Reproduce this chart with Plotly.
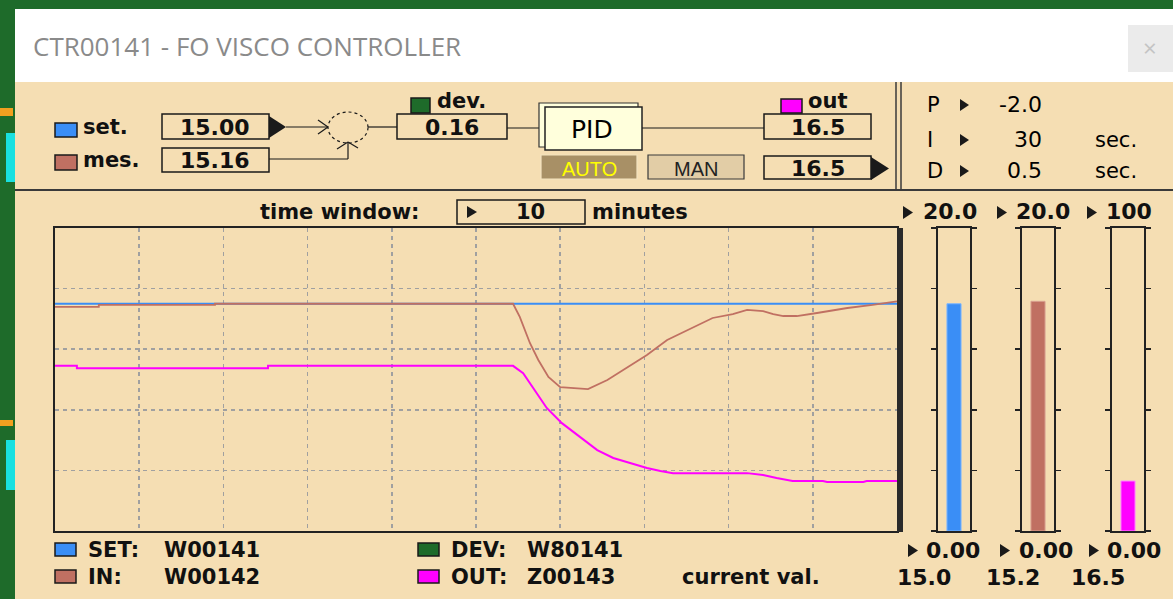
import plotly.graph_objects as go

# ---------------- data ----------------
set_time = [0.0, 10.0]
set_value = [15.0, 15.0]

mes_time = [0.0, 0.52, 0.52, 1.90, 1.90, 5.44, 5.52, 5.58, 5.64, 5.74, 5.86, 6.00, 6.33,
            6.56, 6.75, 7.03, 7.27, 7.51, 7.81, 8.05, 8.22, 8.41, 8.53, 8.65, 8.81,
            9.05, 9.41, 9.71, 10.0]
mes_value = [14.80, 14.80, 14.92, 14.92, 15.00, 15.00, 14.13, 13.27, 12.41, 11.29, 10.17,
             9.50, 9.37, 9.97, 10.63, 11.62, 12.61, 13.27, 14.06, 14.32, 14.59, 14.52,
             14.32, 14.19, 14.19, 14.39, 14.72, 14.92, 15.16]

out_time = [0.0, 0.26, 0.26, 2.53, 2.53, 5.44, 5.56, 5.64, 5.76, 5.84, 6.02, 6.20, 6.44,
            6.63, 6.83, 7.03, 7.19, 7.34, 8.22, 8.41, 8.57, 8.76, 9.12, 9.17, 9.60,
            9.64, 10.0]
out_value = [54.5, 54.5, 53.7, 53.7, 54.5, 54.5, 52.1, 48.8, 44.2, 40.6, 35.6, 31.7, 26.7,
             24.1, 22.4, 20.8, 19.8, 19.1, 19.1, 18.5, 17.5, 16.5, 16.5, 16.2, 16.2,
             16.5, 16.5]

set_current = 15.00
mes_current = 15.16
dev_current = 0.16
out_current = 16.5
out_manual = 16.5

pid_p = -2.0
pid_i = 30
pid_d = 0.5

time_window_min = 10
gauge_max = [20.0, 20.0, 100]
gauge_min = [0.00, 0.00, 0.00]
gauge_current = [set_current, mes_current, out_current]

tag_names = ["SET:", "IN:", "DEV:", "OUT:"]
tag_ids = ["W00141", "W00142", "W80141", "Z00143"]
title_text = "CTR00141 - FO VISCO CONTROLLER"

# ---------------- styling ----------------
W, H = 1173, 599
BEIGE = "#F5DEB3"
GRAY = "#D6D6D6"
BLUE = "#3A8EF6"
RED = "#C07062"
MAG = "#FF00FF"
GREEN = "#1E6B2A"
DARK = "#1A1A1A"
FONT = "DejaVu Sans"


def px(x):
    return x / W


def py(y):
    return 1 - y / H


shapes = []
annotations = []


def rect(x0, y0, x1, y1, fill=None, line=None, lw=1.5, dash=None, layer="above"):
    d = dict(type="rect", xref="paper", yref="paper", x0=px(x0), x1=px(x1), y0=py(y0), y1=py(y1),
             line=dict(width=lw if line else 0, color=line or "rgba(0,0,0,0)"), layer=layer)
    if dash:
        d["line"]["dash"] = dash
    if fill:
        d["fillcolor"] = fill
    shapes.append(d)


def line(x0, y0, x1, y1, color=DARK, lw=1.5, dash=None):
    d = dict(type="line", xref="paper", yref="paper", x0=px(x0), x1=px(x1), y0=py(y0), y1=py(y1),
             line=dict(width=lw, color=color))
    if dash:
        d["line"]["dash"] = dash
    shapes.append(d)


def tri(x0, y0, x1, y1, color=DARK):
    ym = (y0 + y1) / 2
    path = f"M {px(x0)} {py(y0)} L {px(x1)} {py(ym)} L {px(x0)} {py(y1)} Z"
    shapes.append(dict(type="path", xref="paper", yref="paper", path=path,
                       fillcolor=color, line=dict(width=0)))


def txt(x, y, s, size=21, color="#111111", bold=True, anchor="left", family=FONT):
    annotations.append(dict(x=px(x), y=py(y), xref="paper", yref="paper",
                            text=f"<b>{s}</b>" if bold else s, showarrow=False,
                            xanchor=anchor, yanchor="middle",
                            font=dict(family=family, size=size, color=color)))


# window frame
rect(15, 9, 1173, 82, fill="#FFFFFF", layer="below")
rect(15, 82, 1173, 599, fill=BEIGE, layer="below")
rect(0, 108, 13, 116, fill="#F0A020", layer="below")
rect(6, 133, 15, 182, fill="#19E0E0", layer="below")
rect(6, 440, 15, 490, fill="#19E0E0", layer="below")
rect(0, 420, 13, 426, fill="#F0A020", layer="below")
rect(1128, 25, 1173, 72, fill="#EBEBEB", layer="below")
txt(1150, 47, "×", size=24, color="#C4C4C4", bold=False, anchor="center", family="Open Sans")
txt(31, 46, title_text, size=26, color="#8A8A8A", bold=False, family="Open Sans")

# panel separators
line(15, 190, 1173, 190, color="#3A3A3A", lw=2)
line(896, 82, 896, 190, color="#3A3A3A", lw=1.5)
line(901, 82, 901, 190, color="#3A3A3A", lw=1.5)

# ---------------- block diagram ----------------
rect(55, 123, 77, 137, fill=BLUE, line=DARK, lw=1.5)
txt(81, 127, "set.", size=21)
rect(55, 155, 77, 170, fill=RED, line=DARK, lw=1.5)
txt(81, 160, "mes.", size=21)

rect(162, 114, 269, 139, fill=BEIGE, line=DARK, lw=1.5)
txt(215, 127, f"{set_current:.2f}", size=22, anchor="center")
tri(269, 116, 286, 138)
rect(162, 148, 269, 172, fill=BEIGE, line=DARK, lw=1.5)
txt(215, 160, f"{mes_current:.2f}", size=22, anchor="center")

line(286, 127, 328, 127, lw=1.2)
line(318, 120, 328, 127, lw=1.2)
line(318, 134, 328, 127, lw=1.2)
line(269, 159, 348, 159, lw=1.2)
line(348, 159, 348, 143, lw=1.2)
line(337, 149, 348, 142, lw=1.2)
line(358, 148, 348, 142, lw=1.2)
shapes.append(dict(type="circle", xref="paper", yref="paper", x0=px(328), x1=px(368),
                   y0=py(112), y1=py(143), line=dict(width=1.2, color=DARK, dash="dot")))
line(368, 127, 397, 127, lw=1.2)

rect(411, 98, 430, 113, fill=GREEN, line=DARK, lw=1.5)
txt(435, 101, "dev.", size=21)
rect(397, 114, 507, 139, fill=BEIGE, line=DARK, lw=1.5)
txt(452, 127, f"{dev_current:.2f}", size=22, anchor="center")
line(507, 128, 540, 128, lw=1.2)

rect(539, 103, 638, 147, fill="#FFFFDC", line="#333333", lw=1.2)
rect(545, 107, 642, 150, fill="#FFFFDC", line="#222222", lw=1.5)
txt(592, 129, "PID", size=25, bold=False, anchor="center", color="#000000")
line(642, 128, 764, 128, lw=1.2)

rect(541, 155, 637, 179, fill="#A89066", line="#F3E3C0", lw=1.2)
txt(589, 169, "AUTO", size=20, color="#FFFF00", bold=False, anchor="center", family="Liberation Sans")
rect(648, 155, 744, 179, fill="#E2CDA6", line="#3A3A3A", lw=1.2)
txt(696, 169, "MAN", size=20, color="#222222", bold=False, anchor="center", family="Liberation Sans")

rect(781, 99, 802, 113, fill=MAG, line=DARK, lw=1.5)
txt(806, 101, "out", size=21)
rect(764, 114, 871, 139, fill=BEIGE, line=DARK, lw=1.5)
txt(818, 127, f"{out_current:.1f}", size=22, anchor="center")
rect(764, 156, 871, 179, fill=BEIGE, line=DARK, lw=1.5)
txt(818, 168, f"{out_manual:.1f}", size=22, anchor="center")
tri(871, 157, 889, 180)

# PID parameters
for yy, lab, val, unit in [(105, "P", f"{pid_p:.1f}", ""), (140, "I", f"{pid_i}", "sec."),
                           (171, "D", f"{pid_d:.1f}", "sec.")]:
    txt(925, yy, lab, size=21, bold=False, color="#000000")
    tri(960, yy - 6, 969, yy + 6)
    txt(1044, yy, val, size=22, bold=False, anchor="right", color="#000000")
    if unit:
        txt(1093, yy, unit, size=21, bold=False, color="#000000")

# ---------------- lower panel ----------------
txt(421, 212, "time window:", size=21, anchor="right")
rect(457, 200, 585, 224, fill=BEIGE, line=DARK, lw=1.5)
tri(467, 206, 477, 218)
txt(530, 212, f"{time_window_min}", size=21, anchor="center")
txt(590, 212, "minutes", size=21)

# chart frame extras
rect(897, 228, 903, 532, fill="#2A2A2A", layer="above")

# gauge labels
gx_tri_top = [903, 997, 1087]
gx_txt_top = [921, 1014, 1104]
gx_tri_bot = [908, 1000, 1089]
gx_txt_bot = [924, 1017, 1105]
gx_cur = [924, 1013, 1098]
for i in range(3):
    mx = gauge_max[i]
    tri(gx_tri_top[i], 206, gx_tri_top[i] + 10, 219)
    txt(gx_txt_top[i], 212, f"{mx:.1f}" if isinstance(mx, float) else f"{mx}", size=22)
    tri(gx_tri_bot[i], 544, gx_tri_bot[i] + 10, 557)
    txt(gx_txt_bot[i], 550, f"{gauge_min[i]:.2f}", size=22)
    txt(gx_cur[i], 577, f"{gauge_current[i]:.1f}", size=22, anchor="center")
txt(680, 577, "current val.", size=21)

# legend
leg = [(55, 550, BLUE, 0), (55, 577, RED, 1), (418, 550, GREEN, 2), (418, 577, MAG, 3)]
for x0, yy, col, k in leg:
    rect(x0, yy - 7, x0 + 21, yy + 6, fill=col, line=DARK, lw=1.5)
    txt(x0 + 31, yy, tag_names[k], size=21)
    txt(x0 + 107, yy, tag_ids[k], size=21)

# ---------------- traces ----------------
fig = go.Figure()
fig.add_trace(go.Scatter(x=set_time, y=set_value, mode="lines", line=dict(color=BLUE, width=2.2),
                         xaxis="x", yaxis="y", hoverinfo="skip"))
fig.add_trace(go.Scatter(x=mes_time, y=mes_value, mode="lines", line=dict(color=RED, width=1.8),
                         xaxis="x", yaxis="y", hoverinfo="skip"))
fig.add_trace(go.Scatter(x=out_time, y=out_value, mode="lines", line=dict(color=MAG, width=2),
                         xaxis="x", yaxis="y2", hoverinfo="skip"))

gauge_cols = [BLUE, RED, MAG]
gauge_edge = ["#7DB6FF", "#D9A090", "#FF88FF"]
gauge_dom = [(938, 970), (1022, 1054), (1112, 1144)]
for i in range(3):
    fig.add_trace(go.Bar(x=[0], y=[gauge_current[i]], width=[0.44],
                         marker=dict(color=gauge_cols[i], line=dict(color=gauge_edge[i], width=1)),
                         xaxis=f"x{i + 2}", yaxis=f"y{i + 3}", hoverinfo="skip"))

ydom = [py(531), py(228)]
GRID = dict(showgrid=True, gridcolor="#A0A0A0", griddash="4px,4px", gridwidth=1.6)
layout = dict(
    width=W, height=H, autosize=False,
    margin=dict(l=0, r=0, t=0, b=0, pad=0),
    paper_bgcolor=GREEN, plot_bgcolor=GRAY,
    showlegend=False, shapes=shapes, annotations=annotations,
    xaxis=dict(domain=[px(55), px(897)], range=[0, time_window_min], dtick=1, **GRID,
               showticklabels=False, zeroline=False, ticks="",
               showline=True, mirror=True, linecolor="#222222", linewidth=2, fixedrange=True),
    yaxis=dict(domain=ydom, range=[0, gauge_max[0]], dtick=4, **GRID,
               showticklabels=False, zeroline=False, ticks="",
               showline=True, mirror=True, linecolor="#222222", linewidth=2, fixedrange=True),
    yaxis2=dict(overlaying="y", range=[0, gauge_max[2]], visible=False, showgrid=False,
                zeroline=False, fixedrange=True),
)
for i in range(3):
    xa = f"xaxis{i + 2}"
    ya = f"yaxis{i + 3}"
    layout[xa] = dict(domain=[px(gauge_dom[i][0]), px(gauge_dom[i][1])], range=[-0.5, 0.5],
                      anchor=f"y{i + 3}", showgrid=False, zeroline=False, showticklabels=False,
                      ticks="", showline=True, mirror=True, linecolor="#222222", linewidth=2,
                      fixedrange=True)
    mx = gauge_max[i]
    layout[ya] = dict(domain=ydom, range=[0, mx], anchor=f"x{i + 2}", showgrid=False,
                      zeroline=False, showticklabels=False,
                      tickvals=[mx * k / 5 for k in range(6)], ticks="outside", ticklen=5,
                      tickcolor="#222222", tickwidth=1.5,
                      showline=True, mirror="ticks", linecolor="#222222", linewidth=2,
                      fixedrange=True)

fig.update_layout(**layout)

fig.write_html("out.html", config={"displayModeBar": False, "staticPlot": True},
               post_script="document.body.style.margin='0';document.body.style.overflow='hidden';")
